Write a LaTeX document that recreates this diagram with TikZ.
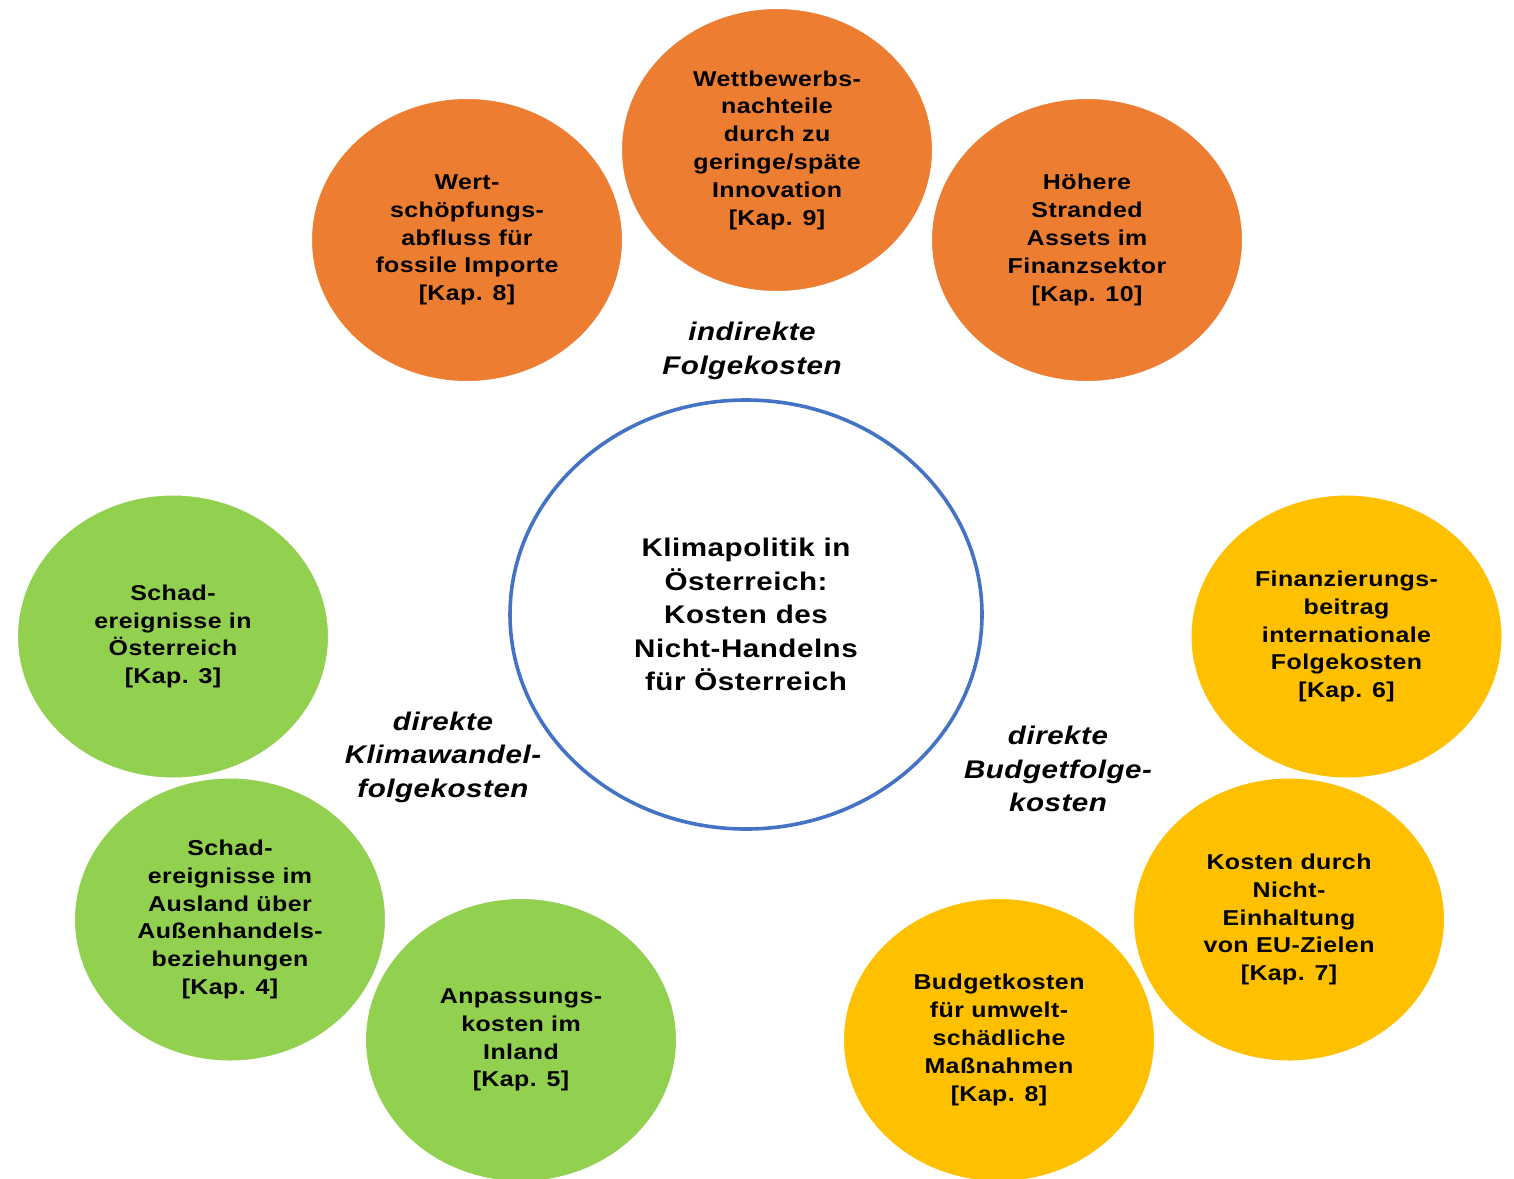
\documentclass[tikz,border=0pt]{standalone}
\usepackage{fontspec}
\setmainfont{Liberation Sans}[FakeStretch=1.16,LetterSpace=2]
\usetikzlibrary{shapes.geometric}
\definecolor{cOrange}{HTML}{ED7D31}
\definecolor{cGreen}{HTML}{92D050}
\definecolor{cYellow}{HTML}{FFC000}
\definecolor{cBlue}{HTML}{4472C4}
\tikzset{
  blob/.style={ellipse, fill=#1, draw=white, line width=2pt, minimum width=312pt, minimum height=284pt, inner sep=0pt},
  blobtext/.style={align=center, inner sep=0pt, font=\bfseries\fontsize{21.5}{27.8}\selectfont},
  bigtext/.style={align=center, inner sep=0pt, font=\bfseries\fontsize{25.5}{33.5}\selectfont},
  labeltext/.style={align=center, inner sep=0pt, font=\bfseries\itshape\fontsize{25.5}{33.5}\selectfont},
  center/.style={ellipse, draw=cBlue, line width=3.6pt, fill=white, minimum width=472pt, minimum height=429pt, inner sep=0pt}
}
\begin{document}
\begin{tikzpicture}[x=1pt,y=-1pt]
\useasboundingbox (0,0) rectangle (1514,1178);
\clip (0,0) rectangle (1514,1178);
% orange
\node[blob=cOrange] (o1) at (467,240) {};
\node[blob=cOrange] (o2) at (777,150) {};
\node[blob=cOrange] (o3) at (1087,240) {};
\node[blobtext] (o1t) at (o1) {Wert-\\schöpfungs-\\abfluss für\\fossile Importe\\{[}Kap. 8{]}};
\node[blobtext] (o2t) at (o2) {Wettbewerbs-\\nachteile\\durch zu\\geringe/späte\\Innovation\\{[}Kap. 9{]}};
\node[blobtext] (o3t) at (o3) {Höhere\\Stranded\\Assets im\\Finanzsektor\\{[}Kap. 10{]}};
% green
\node[blob=cGreen] (g1) at (173,636.5) {};
\node[blob=cGreen] (g2) at (230,919.5) {};
\node[blob=cGreen] (g3) at (521,1040) {};
\node[blobtext] (g1t) at (g1) {Schad-\\ereignisse in\\Österreich\\{[}Kap. 3{]}};
\node[blobtext] (g2t) at (g2) {Schad-\\ereignisse im\\Ausland über\\Außenhandels-\\beziehungen\\{[}Kap. 4{]}};
\node[blobtext] (g3t) at (g3) {Anpassungs-\\kosten im\\Inland\\{[}Kap. 5{]}};
% yellow
\node[blob=cYellow] (y1) at (1346.5,636.5) {};
\node[blob=cYellow] (y3) at (999,1040) {};
\node[blob=cYellow] (y2) at (1289,919.5) {};
\node[blobtext] (y1t) at (y1) {Finanzierungs-\\beitrag\\internationale\\Folgekosten\\{[}Kap. 6{]}};
\node[blobtext] (y2t) at (y2) {Kosten durch\\Nicht-\\Einhaltung\\von EU-Zielen\\{[}Kap. 7{]}};
\node[blobtext] (y3t) at (y3) {Budgetkosten\\für umwelt-\\schädliche\\Maßnahmen\\{[}Kap. 8{]}};
% center
\node[center] (c) at (746,614.5) {};
\node[bigtext] (ct) at (c) {Klimapolitik in\\Österreich:\\Kosten des\\Nicht-Handelns\\für Österreich};
% labels
\node[labeltext] (l1) at (752,351) {indirekte\\Folgekosten};
\node[labeltext] (l2) at (443,757) {direkte\\Klimawandel-\\folgekosten};
\node[labeltext] (l3) at (1058,769) {direkte\\Budgetfolge-\\kosten};
\end{tikzpicture}
\end{document}
